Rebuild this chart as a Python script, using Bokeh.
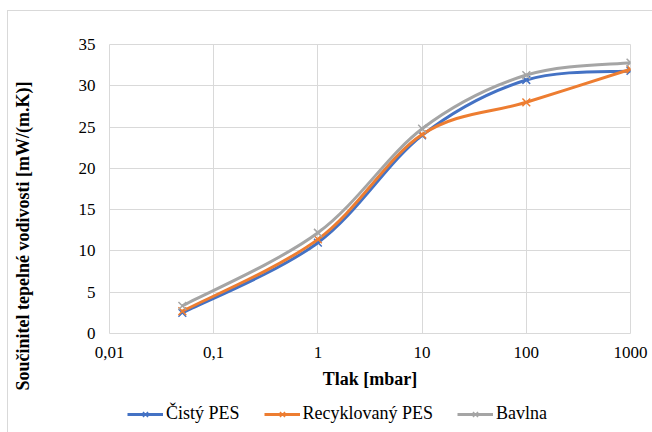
import numpy as np
from bokeh.plotting import figure
from bokeh.layouts import column
from bokeh.models import (ColumnDataSource, FixedTicker, CustomJSTickFormatter,
                          Legend, LegendItem, Range1d, Label)
from bokeh.embed import file_html
from bokeh.resources import INLINE

# ---- data ----
pressure = [0.05, 1, 10, 100, 1000]
cisty_pes = [2.5, 11.0, 24.0, 30.7, 31.8]
recyklovany_pes = [2.7, 11.4, 24.1, 28.0, 32.0]
bavlna = [3.35, 12.2, 24.8, 31.3, 32.8]
series_names = ["Čistý PES", "Recyklovaný PES", "Bavlna"]
series_colors = ["#4472C4", "#ED7D31", "#A5A5A5"]
x_ticks = [0.01, 0.1, 1, 10, 100, 1000]
x_tick_labels = ["0,01", "0,1", "1", "10", "100", "1000"]
y_ticks = [0, 5, 10, 15, 20, 25, 30, 35]
x_title = "Tlak [mbar]"
y_title = "Součinitel tepelné vodivosti [mW/(m.K)]"

FONT = "Liberation Serif"
GRID = "#d9d9d9"


def smooth_source(xs, ys):
    """Bezier control points (Catmull-Rom style, like Excel's smoothed line) in log-x space."""
    u = np.log10(np.array(xs, dtype=float))
    y = np.array(ys, dtype=float)
    n = len(u)
    d = dict(x0=[], y0=[], x1=[], y1=[], cx0=[], cy0=[], cx1=[], cy1=[])
    for i in range(n - 1):
        a = i - 1 if i > 0 else i
        b = i + 2 if i + 2 < n else i + 1
        c0u = u[i] + (u[i + 1] - u[a]) / 6.0
        c0y = y[i] + (y[i + 1] - y[a]) / 6.0
        c1u = u[i + 1] - (u[b] - u[i]) / 6.0
        c1y = y[i + 1] - (y[b] - y[i]) / 6.0
        d["x0"].append(10 ** u[i]); d["y0"].append(y[i])
        d["x1"].append(10 ** u[i + 1]); d["y1"].append(y[i + 1])
        d["cx0"].append(10 ** c0u); d["cy0"].append(c0y)
        d["cx1"].append(10 ** c1u); d["cy1"].append(c1y)
    return ColumnDataSource(d)


p = figure(
    x_axis_type="log",
    x_range=Range1d(0.01, 1000),
    y_range=Range1d(0, 35),
    frame_width=520, frame_height=288,
    min_border_left=101, min_border_right=24, min_border_top=33, min_border_bottom=65,
    output_backend="svg", toolbar_location=None,
    background_fill_color="white", border_fill_color="white",
    outline_line_color=GRID,
    margin=(10, 0, 0, 7),
)
p.styles = {"border-left": "1px solid #d9d9d9", "border-top": "1px solid #d9d9d9"}

# axes
p.xaxis.ticker = FixedTicker(ticks=x_ticks, minor_ticks=[])
p.xaxis.formatter = CustomJSTickFormatter(
    args=dict(tick_vals=x_ticks, tick_texts=x_tick_labels),
    code="""
    for (let i = 0; i < tick_vals.length; i++) {
        if (Math.abs(Math.log10(tick) - Math.log10(tick_vals[i])) < 1e-6) return tick_texts[i];
    }
    return "";
    """)
p.yaxis.ticker = FixedTicker(ticks=y_ticks, minor_ticks=[])

for ax in (p.xaxis[0], p.yaxis[0]):
    ax.axis_line_color = None
    ax.major_tick_line_color = None
    ax.minor_tick_line_color = None
    ax.major_tick_out = 0
    ax.major_tick_in = 0
    ax.minor_tick_out = 0
    ax.major_label_text_font = FONT
    ax.major_label_text_font_size = "17px"
    ax.major_label_text_color = "black"
    ax.axis_label_text_font = FONT
    ax.axis_label_text_font_size = "18px"
    ax.axis_label_text_font_style = "bold"
    ax.axis_label_text_color = "black"

p.xaxis.axis_label = x_title
p.xaxis.major_label_standoff = 13
p.xaxis.axis_label_standoff = 8
p.yaxis.major_label_standoff = 14

# y axis title, placed like in the original (below the plot-area centre)
p.add_layout(Label(x=-33, y=-57, x_units="screen", y_units="screen", angle=np.pi / 2,
                   text=y_title, text_font=FONT, text_font_size="18px",
                   text_font_style="bold", text_color="black",
                   text_align="left", text_baseline="middle"), "left")

p.xgrid.grid_line_color = GRID
p.ygrid.grid_line_color = GRID
p.xgrid.ticker = FixedTicker(ticks=x_ticks, minor_ticks=[])
p.ygrid.ticker = FixedTicker(ticks=y_ticks, minor_ticks=[])

# legend strip below the chart (same series, drawn outside its visible range)
q = figure(
    x_axis_type="log",
    x_range=Range1d(1e5, 1e6), y_range=Range1d(100, 200),
    width=645, height=35, min_border=0,
    output_backend="svg", toolbar_location=None,
    background_fill_color="white", border_fill_color="white",
    outline_line_color=None, margin=(0, 0, 0, 7),
)
q.styles = {"border-left": "1px solid #d9d9d9"}
q.axis.visible = False
q.grid.visible = False

items = []
for name, vals, col in zip(series_names, [cisty_pes, recyklovany_pes, bavlna], series_colors):
    src = smooth_source(pressure, vals)
    for fig in (p, q):
        r_line = fig.bezier(x0="x0", y0="y0", x1="x1", y1="y1", cx0="cx0", cy0="cy0",
                            cx1="cx1", cy1="cy1", source=src, line_color=col, line_width=3)
        r_mark = fig.scatter(pressure, vals, marker="x", size=11, line_color=col,
                             line_width=1.5)
    items.append(LegendItem(label=name, renderers=[r_line, r_mark]))

legend = Legend(items=items, orientation="horizontal", location=(18, 8),
                label_text_font=FONT, label_text_font_size="18px", label_text_color="black",
                glyph_width=36, glyph_height=18, label_standoff=3, spacing=24,
                border_line_color=None, background_fill_alpha=0, margin=0, padding=0)
q.add_layout(legend, "center")

layout = column(p, q, spacing=0)
open("out.html", "w").write(file_html(layout, INLINE))
